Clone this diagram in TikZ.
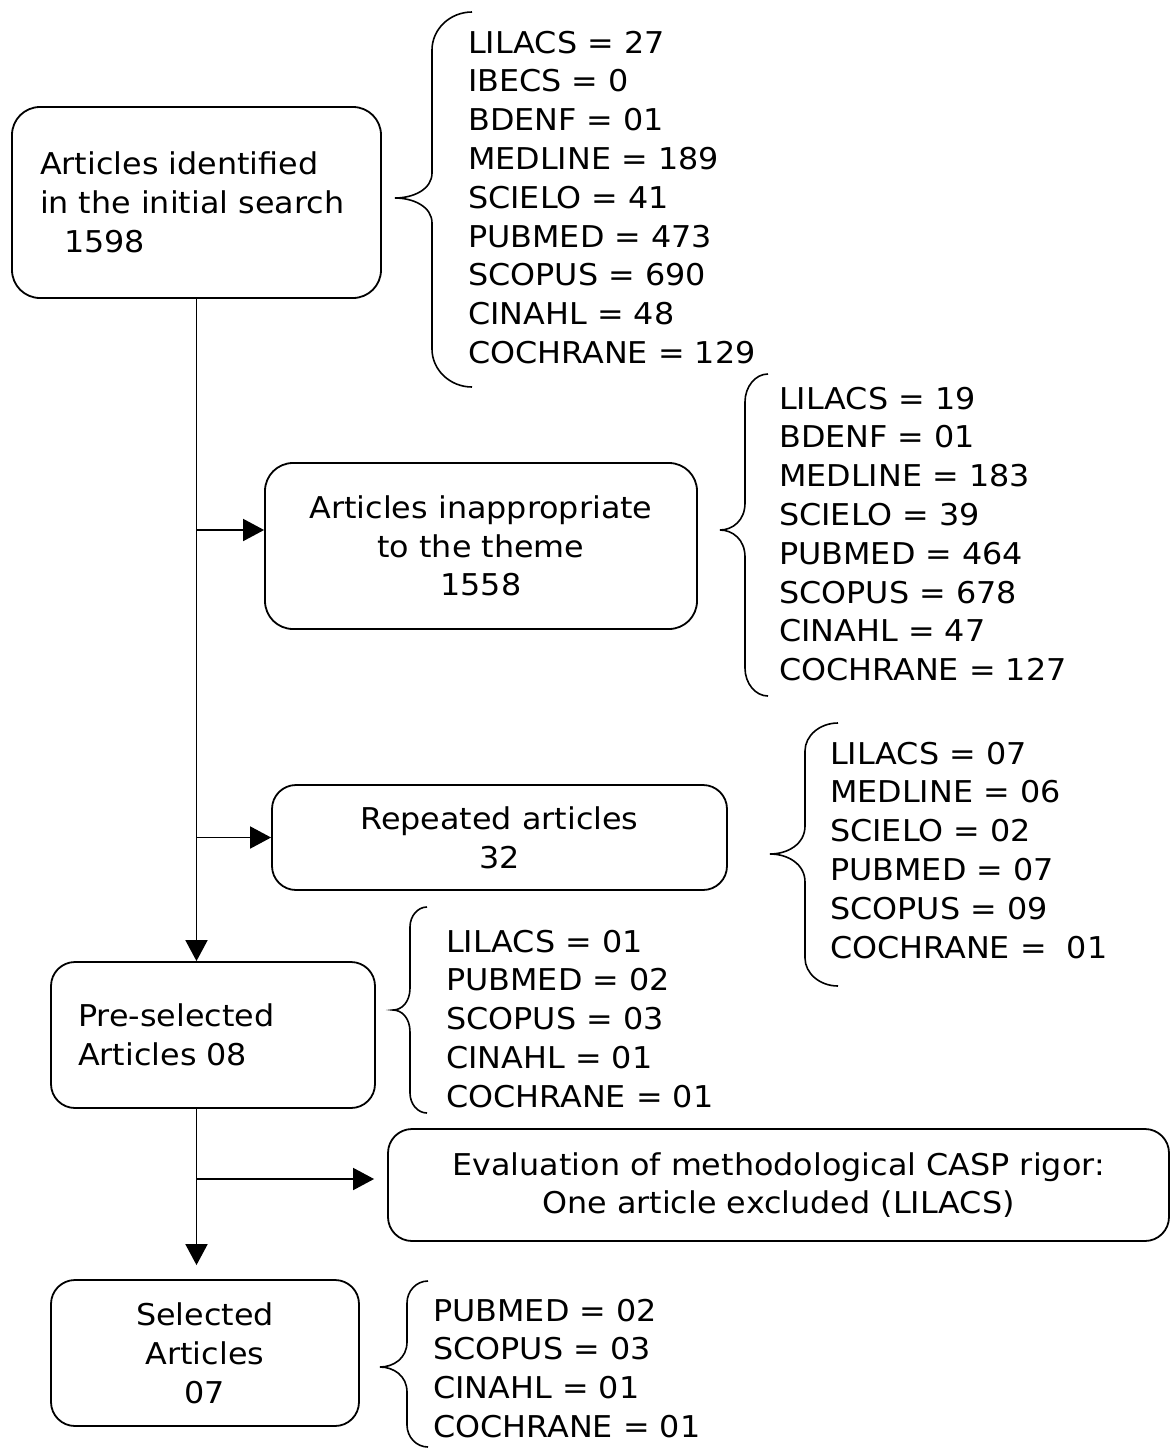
\documentclass[tikz,border=0pt]{standalone}
\usepackage{fontspec}
\setmainfont{DejaVu Sans}[FakeStretch=1.06]
\usetikzlibrary{arrows.meta}
\tikzset{
  txt/.style={font=\fontsize{30}{38.8}\selectfont},
  box/.style={txt, draw, line width=1.8pt, rounded corners=28pt, inner sep=0pt},
  lst/.style={txt, align=left, inner sep=0pt, anchor=base west},
  arr/.style={line width=1.8pt, -{Triangle[length=21pt,width=22pt]}},
  brc/.style={line width=1.6pt}
}
% #1 xend  #2 xstem  #3 xtip  #4 ytop  #5 ytip  #6 ybot  #7 end curl  #8 tip curl
\newcommand\cbrace[8]{%
  \draw[brc] (#1,#4) .. controls ({#1-0.55*(#1-#2)},#4) and (#2,{#4+0.45*#7}) .. (#2,#4+#7)
    -- (#2,#5-#8)
    .. controls (#2,{#5-0.35*#8}) and ({#3+0.5*(#2-#3)},#5) .. (#3,#5)
    .. controls ({#3+0.5*(#2-#3)},#5) and (#2,{#5+0.35*#8}) .. (#2,#5+#8)
    -- (#2,#6-#7)
    .. controls (#2,{#6-0.45*#7}) and ({#1-0.55*(#1-#2)},#6) .. (#1,#6);}
\begin{document}
\begin{tikzpicture}[x=1pt,y=-1pt]
\useasboundingbox (0,0) rectangle (1171,1449);
\fill[white] (0,0) rectangle (1171,1449);

% boxes
\node[box, minimum width=369pt, minimum height=191pt, align=left, text width=313pt] (b1) at (196.5,202.5)
  {Articles identified\\in the initial search\\\hspace*{24pt}1598};
\node[box, minimum width=432pt, minimum height=166pt, align=center] (b2) at (481,546)
  {Articles inappropriate\\to the theme\\1558};
\node[box, minimum width=455pt, minimum height=105pt, align=center, rounded corners=24pt] (b3) at (499.5,837.5)
  {Repeated articles\\32};
\node[box, minimum width=324pt, minimum height=146pt, align=left, text width=270pt, rounded corners=24pt] (b4) at (213,1035)
  {Pre-selected\\Articles 08};
\node[box, minimum width=781pt, minimum height=112pt, align=center, rounded corners=24pt] (b5) at (778.5,1185)
  {Evaluation of methodological CASP rigor:\\One article excluded (LILACS)};
\node[box, minimum width=308pt, minimum height=146pt, align=center, rounded corners=24pt] (b6) at (205,1353)
  {Selected\\Articles\\07};

% connectors
\draw[arr] (b1.south) -- (b1.south |- b4.north);
\draw[arr] (b1.south |- 0,530) -- (b2.west |- 0,530);
\draw[arr] (b1.south |- b3.west) -- (b3.west);
\draw[arr, shorten >=14pt] (b1.south |- b4.south) -- (b1.south |- b6.north);
\draw[arr, shorten >=13pt] (b1.south |- 0,1179) -- (b5.west |- 0,1179);

% braces
\cbrace{472}{432}{395}{12}{198}{387}{38}{25}
\cbrace{768}{745}{720}{374}{530}{696}{28}{27}
\cbrace{838}{805}{770}{723}{854}{986}{28}{28}
\cbrace{427}{410}{393}{907}{1010}{1113}{20}{22}
\cbrace{428}{407}{380}{1281}{1367}{1447}{22}{25}

% lists (anchor at the baseline of the last line)
\node[lst] (l1) at (468,363.4) {LILACS = 27\\IBECS = 0\\BDENF = 01\\MEDLINE = 189\\SCIELO = 41\\PUBMED = 473\\SCOPUS = 690\\CINAHL = 48\\COCHRANE = 129};
\node[lst] (l2) at (779,680.6) {LILACS = 19\\BDENF = 01\\MEDLINE = 183\\SCIELO = 39\\PUBMED = 464\\SCOPUS = 678\\CINAHL = 47\\COCHRANE = 127};
\node[lst] (l3) at (830,958) {LILACS = 07\\MEDLINE = 06\\SCIELO = 02\\PUBMED = 07\\SCOPUS = 09\\COCHRANE = \ 01};
\node[lst] (l4) at (446,1107.2) {LILACS = 01\\PUBMED = 02\\SCOPUS = 03\\CINAHL = 01\\COCHRANE = 01};
\node[lst] (l5) at (433,1437.4) {PUBMED = 02\\SCOPUS = 03\\CINAHL = 01\\COCHRANE = 01};
\end{tikzpicture}
\end{document}
